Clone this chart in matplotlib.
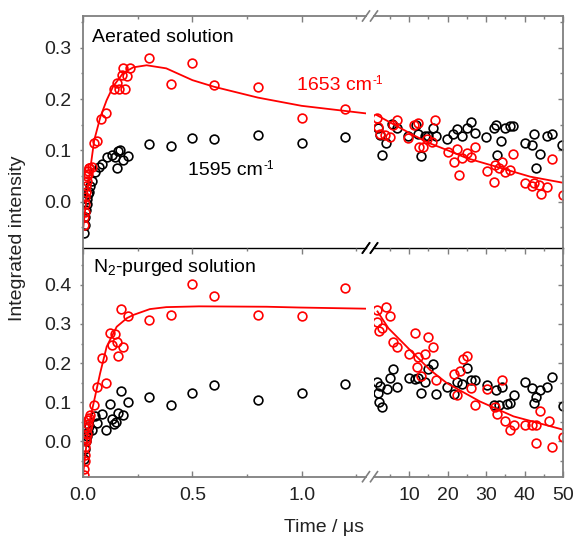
import matplotlib
matplotlib.use("Agg")
import matplotlib.pyplot as plt
from matplotlib.ticker import MultipleLocator, FormatStrFormatter

plt.rcParams['font.family'] = ['Liberation Sans', 'DejaVu Sans']
plt.rcParams['mathtext.fontset'] = 'custom'
plt.rcParams['mathtext.rm'] = 'Liberation Sans'
plt.rcParams['mathtext.it'] = 'Liberation Sans:italic'

# ---------------- data: top panel (aerated) ----------------
# short-time segment (0 - 1.3 us)
top_red_t_short = [0.002, 0.004, 0.006, 0.008, 0.010, 0.012, 0.014, 0.016, 0.018, 0.020, 0.022, 0.025,
                   0.028, 0.038, 0.049, 0.064, 0.080, 0.102, 0.14, 0.155, 0.165, 0.175, 0.18, 0.19, 0.20,
                   0.214, 0.30, 0.40, 0.50, 0.60, 0.80, 1.00, 1.20]
top_red_y_short = [-0.045, -0.03, -0.02, -0.005, 0.01, 0.02, 0.03, 0.04, 0.05, 0.055, 0.06, 0.065,
                   0.065, 0.068, 0.115, 0.118, 0.161, 0.173, 0.22, 0.232, 0.22, 0.248, 0.26, 0.22, 0.245,
                   0.26, 0.281, 0.230, 0.270, 0.228, 0.224, 0.164, 0.181]
top_blk_t_short = [0.003, 0.006, 0.009, 0.012, 0.015, 0.018, 0.021, 0.025, 0.03, 0.04, 0.055, 0.07, 0.087,
                   0.11, 0.132, 0.147, 0.155, 0.16, 0.17, 0.183, 0.203, 0.30, 0.40, 0.50, 0.60, 0.80,
                   1.00, 1.20]
top_blk_y_short = [-0.06, -0.045, -0.03, -0.015, -0.005, 0.005, 0.015, 0.02, 0.03, 0.04, 0.058, 0.068, 0.073,
                   0.088, 0.092, 0.088, 0.065, 0.099, 0.10, 0.081, 0.090, 0.112, 0.109, 0.125, 0.123, 0.130,
                   0.114, 0.127]
top_fit_t_short = [0.0, 0.01, 0.02, 0.03, 0.05, 0.078, 0.107, 0.137, 0.183, 0.229, 0.29, 0.38, 0.5, 0.6,
                   0.8, 0.9, 1.0, 1.2, 1.3]
top_fit_y_short = [-0.05, -0.01, 0.025, 0.058, 0.12, 0.165, 0.198, 0.225, 0.251, 0.262, 0.266, 0.260,
                   0.237, 0.224, 0.203, 0.195, 0.187, 0.177, 0.172]
# long-time segment (up to 50 us)
top_blk_t_long = [2.03, 2.47, 2.9, 4.03, 5.5, 6.97, 9.8, 11.8, 12.4, 13.0, 14.2, 15.0, 16.2, 17.0, 19.8,
                  21.5, 22.4, 23.7, 25.0, 26.0, 27.1, 30.0, 31.9, 32.6, 32.9, 33.8, 34.9, 36.1, 36.9,
                  40.1, 41.9, 42.5, 43.0, 44.0, 45.8, 47.1, 49.7]
top_blk_y_long = [0.143, 0.130, 0.092, 0.114, 0.151, 0.143, 0.128, 0.150, 0.133, 0.089, 0.128, 0.128,
                  0.143, 0.128, 0.122, 0.133, 0.142, 0.128, 0.143, 0.155, 0.135, 0.126, 0.143, 0.150,
                  0.092, 0.119, 0.144, 0.148, 0.148, 0.114, 0.111, 0.133, 0.065, 0.094, 0.129, 0.133,
                  0.111]
top_red_t_long = [1.77, 2.03, 2.47, 3.77, 5.06, 5.93, 6.97, 9.8, 11.3, 12.2, 12.7, 13.7, 14.6, 15.9, 16.8,
                  20.2, 21.7, 22.4, 23.0, 23.7, 25.0, 26.0, 27.0, 30.2, 31.9, 32.3, 33.2, 34.1, 34.9,
                  36.1, 36.9, 40.1, 41.9, 42.5, 43.7, 44.3, 45.8, 47.1, 49.9]
top_red_y_long = [0.163, 0.146, 0.133, 0.130, 0.127, 0.150, 0.159, 0.124, 0.150, 0.153, 0.107, 0.107,
                  0.122, 0.117, 0.159, 0.097, 0.078, 0.103, 0.052, 0.085, 0.096, 0.088, 0.107, 0.060,
                  0.038, 0.072, 0.065, 0.077, 0.058, 0.062, 0.093, 0.037, 0.031, 0.037, 0.033, 0.016,
                  0.029, 0.083, 0.013]
top_fit_t_long = [1.6, 5.0, 11.1, 15.0, 19.8, 25.0, 32.8, 41.4, 50.0]
top_fit_y_long = [0.169, 0.155, 0.130, 0.115, 0.101, 0.085, 0.068, 0.049, 0.037]

# ---------------- data: bottom panel (N2-purged) ----------------
bot_red_t_short = [0.002, 0.004, 0.006, 0.008, 0.010, 0.012, 0.014, 0.016, 0.018, 0.020, 0.022, 0.025,
                   0.03, 0.05, 0.061, 0.084, 0.104, 0.123, 0.13, 0.145, 0.153, 0.16, 0.171, 0.183, 0.203,
                   0.30, 0.40, 0.50, 0.60, 0.80, 1.00, 1.20]
bot_red_y_short = [-0.085, -0.07, -0.05, -0.035, -0.015, 0.0, 0.01, 0.02, 0.035, 0.045, 0.055, 0.06,
                   0.068, 0.094, 0.139, 0.213, 0.149, 0.278, 0.247, 0.275, 0.255, 0.217, 0.339, 0.241,
                   0.321, 0.310, 0.323, 0.402, 0.372, 0.322, 0.321, 0.391]
bot_blk_t_short = [0.004, 0.008, 0.012, 0.016, 0.02, 0.025, 0.038, 0.054, 0.064, 0.084, 0.104, 0.123,
                   0.13, 0.14, 0.15, 0.16, 0.171, 0.183, 0.203, 0.30, 0.40, 0.50, 0.60, 0.80, 1.00, 1.20]
bot_blk_y_short = [-0.045, -0.02, 0.0, 0.015, 0.025, 0.04, 0.030, 0.064, 0.047, 0.071, 0.030, 0.096,
                   0.057, 0.044, 0.049, 0.072, 0.128, 0.068, 0.102, 0.113, 0.093, 0.125, 0.144, 0.106,
                   0.125, 0.146]
bot_fit_t_short = [0.0, 0.01, 0.02, 0.03, 0.054, 0.077, 0.107, 0.153, 0.2, 0.229, 0.305, 0.38, 0.53, 0.84,
                   0.99, 1.3]
bot_fit_y_short = [-0.08, -0.03, 0.02, 0.055, 0.115, 0.174, 0.242, 0.293, 0.315, 0.323, 0.338, 0.343,
                   0.345, 0.344, 0.342, 0.339]
bot_red_t_long = [1.77, 1.6, 2.2, 2.9, 4.03, 5.06, 5.93, 6.97, 10.1, 11.6, 12.0, 12.4, 13.0, 14.2, 15.0,
                  16.2, 17.0, 21.7, 22.4, 23.2, 23.9, 25.0, 26.0, 27.1, 30.2, 32.3, 32.8, 34.1, 34.9,
                  36.1, 37.1, 40.1, 41.9, 42.8, 43.0, 44.0, 46.4, 47.1, 49.9]
bot_red_y_long = [0.336, 0.306, 0.281, 0.289, 0.344, 0.321, 0.253, 0.241, 0.224, 0.278, 0.190, 0.215,
                  0.166, 0.224, 0.266, 0.242, 0.157, 0.173, 0.119, 0.179, 0.211, 0.219, 0.136, 0.094,
                  0.134, 0.088, 0.071, 0.157, 0.051, 0.028, 0.043, 0.043, 0.043, 0.042, -0.003, 0.077,
                  0.053, -0.014, 0.011]
bot_blk_t_long = [1.6, 2.03, 2.3, 2.47, 2.9, 4.2, 5.06, 5.93, 6.97, 10.1, 11.6, 12.2, 13.0, 14.2, 15.0,
                  16.2, 17.0, 19.8, 21.7, 22.4, 23.7, 25.0, 26.0, 27.1, 30.2, 31.9, 32.6, 33.2, 34.1,
                  35.4, 36.3, 37.1, 40.1, 41.9, 42.5, 43.0, 44.0, 45.8, 47.1, 49.9]
bot_blk_y_long = [0.151, 0.123, 0.102, 0.142, 0.089, 0.134, 0.162, 0.185, 0.139, 0.162, 0.159, 0.162,
                  0.123, 0.151, 0.185, 0.198, 0.122, 0.140, 0.122, 0.151, 0.147, 0.187, 0.156, 0.157,
                  0.145, 0.094, 0.132, 0.094, 0.140, 0.096, 0.098, 0.119, 0.153, 0.136, 0.098, 0.113,
                  0.132, 0.140, 0.164, 0.091]
bot_fit_t_long = [1.8, 4.65, 11.1, 15.4, 19.8, 28.4, 37.1, 50.0]
bot_fit_y_long = [0.332, 0.289, 0.225, 0.183, 0.149, 0.102, 0.064, 0.030]

# ---------------- layout ----------------
W, H = 577, 540
fig = plt.figure(figsize=(W / 100, H / 100), dpi=100)

xl0, xl1 = 83.3, 366.0
xr0, xr1 = 374.0, 563.3
rows = [(16.0, 248.0), (248.0, 476.7)]

def fx(px):
    return px / W

def fy(py):
    return 1 - py / H

GRAY = '#7f7f7f'
TXT = '#222222'
FS = 14

panels = [
    dict(ylim=(-0.09, 0.362), yticks=[0.0, 0.1, 0.2, 0.3],
         rs=(top_red_t_short, top_red_y_short), bs=(top_blk_t_short, top_blk_y_short),
         fs=(top_fit_t_short, top_fit_y_short),
         rl=(top_red_t_long, top_red_y_long), bl=(top_blk_t_long, top_blk_y_long),
         fl=(top_fit_t_long, top_fit_y_long)),
    dict(ylim=(-0.09, 0.494), yticks=[0.0, 0.1, 0.2, 0.3, 0.4],
         rs=(bot_red_t_short, bot_red_y_short), bs=(bot_blk_t_short, bot_blk_y_short),
         fs=(bot_fit_t_short, bot_fit_y_short),
         rl=(bot_red_t_long, bot_red_y_long), bl=(bot_blk_t_long, bot_blk_y_long),
         fl=(bot_fit_t_long, bot_fit_y_long)),
]

mk = dict(ls='none', marker='o', mfc='none', ms=6.3, mew=1.2)

for i, (p, (ytop, ybot)) in enumerate(zip(panels, rows)):
    axL = fig.add_axes([fx(xl0), fy(ybot), fx(xl1 - xl0), (ybot - ytop) / H])
    axR = fig.add_axes([fx(xr0), fy(ybot), fx(xr1 - xr0), (ybot - ytop) / H])

    axL.plot(*p['bs'], color='black', **mk)
    axL.plot(*p['rs'], color='red', **mk)
    axL.plot(*p['fs'], color='red', lw=1.3)
    axR.plot(*p['bl'], color='black', **mk)
    axR.plot(*p['rl'], color='red', **mk)
    axR.plot(*p['fl'], color='red', lw=1.3)

    axL.set_xlim(0, 1.295)
    axR.set_xlim(0.9, 50)
    for ax in (axL, axR):
        ax.set_ylim(*p['ylim'])
        ax.yaxis.set_major_locator(MultipleLocator(0.1))
        ax.yaxis.set_minor_locator(MultipleLocator(0.05))
        ax.patch.set_alpha(0)
        for s in ax.spines.values():
            s.set_color(GRAY)
            s.set_linewidth(1.3)
    axL.xaxis.set_major_locator(MultipleLocator(0.5))
    axL.xaxis.set_minor_locator(MultipleLocator(0.25))
    axR.xaxis.set_major_locator(MultipleLocator(10))
    axR.xaxis.set_minor_locator(MultipleLocator(5))
    axL.xaxis.set_major_formatter(FormatStrFormatter('%.1f'))
    axL.yaxis.set_major_formatter(FormatStrFormatter('%.1f'))

    axL.spines['right'].set_visible(False)
    axR.spines['left'].set_visible(False)

    # y ticks
    axL.tick_params(axis='y', which='both', direction='out', left=True, right=False,
                    labelsize=FS, labelcolor=TXT, color=GRAY, pad=6)
    axL.tick_params(axis='y', which='major', length=2.5, width=1)
    axL.tick_params(axis='y', which='minor', length=1.6, width=1)
    axR.tick_params(axis='y', which='both', direction='in', left=False, right=True,
                    labelleft=False, color=GRAY)
    axR.tick_params(axis='y', which='major', length=3.5, width=1)
    axR.tick_params(axis='y', which='minor', length=2, width=1)

    for ax in (axL, axR):
        if i == 0:
            ax.spines['bottom'].set_color('black')
            ax.spines['bottom'].set_linewidth(1.0)
            ax.tick_params(axis='x', which='both', direction='in', top=True, bottom=False,
                           labelbottom=False, color=GRAY)
        else:
            ax.spines['top'].set_visible(False)
            ax.tick_params(axis='x', which='both', direction='in', top=True, bottom=True,
                           labelbottom=True, labelsize=FS, labelcolor=TXT, color=GRAY, pad=7.5)
        ax.tick_params(axis='x', which='major', length=4.3, width=1)
        ax.tick_params(axis='x', which='minor', length=2.2, width=1)
    axL.set_yticks(p['yticks'])

    # break marks
    for ax, xa in ((axL, 1.0), (axR, 0.0)):
        for yb in (0.0, 1.0):
            if i == 0 and yb == 0.0:
                col = 'black'
            elif i == 1 and yb == 1.0:
                col = 'black'
            else:
                col = GRAY
            dx = 3.5 / (xl1 - xl0) if ax is axL else 3.5 / (xr1 - xr0)
            dy = 5.0 / (ybot - ytop)
            ax.plot([xa - dx, xa + dx], [yb - dy, yb + dy], transform=ax.transAxes,
                    color=col, lw=1.2, clip_on=False)

# annotations
fig.text(fx(92), fy(37), 'Aerated solution', fontsize=FS, color='black', va='center', ha='left')
fig.text(fx(93), fy(268), 'N$_{2}$-purged solution', fontsize=FS, color='black', va='center', ha='left')

renderer = fig.canvas.get_renderer()

def wavenumber_label(px, py, number, color):
    t = fig.text(fx(px), fy(py), number + ' cm', fontsize=FS, color=color, va='center', ha='left')
    bb = t.get_window_extent(renderer=renderer)
    fig.text((bb.x1 + 0.5) / W, (bb.y1 - 4) / H, '-1', fontsize=FS * 0.62, color=color,
             va='center', ha='left')

wavenumber_label(297, 86, '1653', 'red')
wavenumber_label(188, 170, '1595', 'black')

fig.text(fx(18), fy(238), 'Integrated intensity', fontsize=FS, color=TXT, rotation=90,
         va='center', ha='center')
fig.text(fx(324), fy(528), 'Time / μs', fontsize=FS, color=TXT, va='center', ha='center')

fig.savefig('out.png', dpi=100)
